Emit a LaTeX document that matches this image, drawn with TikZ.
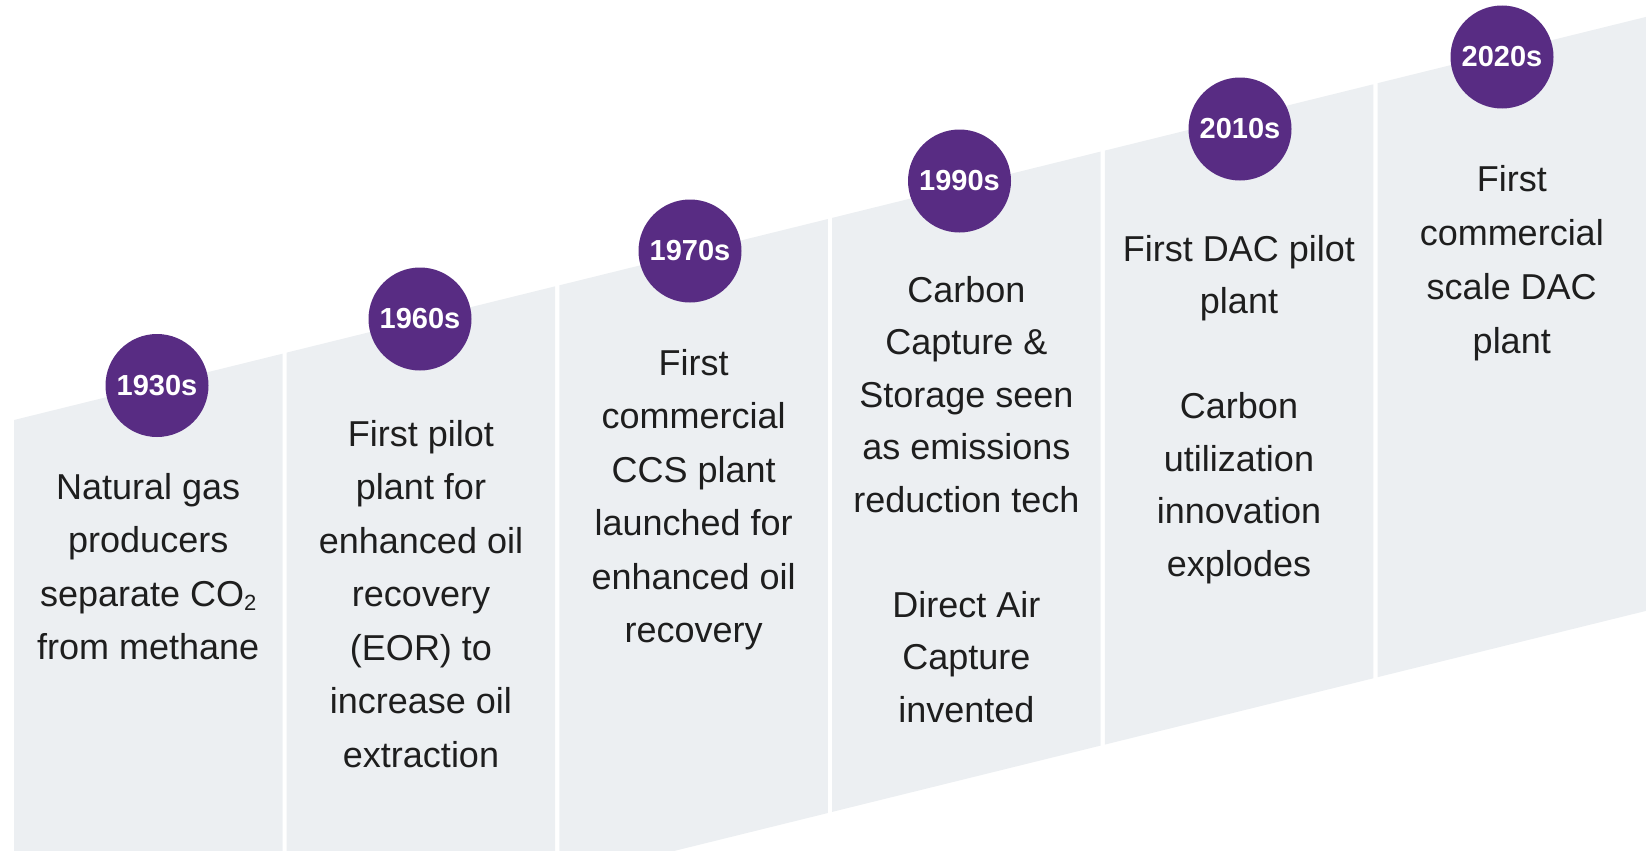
\documentclass[tikz,border=0pt]{standalone}
\usepackage{fontspec}
\setmainfont{Liberation Sans}

\definecolor{ballpurple}{HTML}{582C83}
\definecolor{panelgrey}{HTML}{ECEFF2}
\definecolor{notetext}{HTML}{1E1E1E}

\tikzset{
  yearball/.style={circle, fill=ballpurple, minimum size=103pt, inner sep=0pt,
    text=white, font=\fontsize{29}{29}\bfseries\selectfont},
  note/.style={align=center, text=notetext, inner sep=0pt, anchor=base,
    font=\fontsize{36}{53.5}\selectfont},
}

\begin{document}
\begin{tikzpicture}[x=1pt,y=-1pt]
        \useasboundingbox (0,0) rectangle (1646,851);
        \clip (0,0) rectangle (1646,851);
        % Draw the sloped panels
        \fill[panelgrey] (14,420) -- (282.5,353.7) -- (282.5,947.7) -- (14,1014) -- cycle;
        \fill[panelgrey] (286.7,352.6) -- (555.2,286.3) -- (555.2,880.3) -- (286.7,946.6) -- cycle;
        \fill[panelgrey] (559.4,285.3) -- (827.9,219.0) -- (827.9,813.0) -- (559.4,879.3) -- cycle;
        \fill[panelgrey] (832.1,217.9) -- (1100.6,151.6) -- (1100.6,745.6) -- (832.1,811.9) -- cycle;
        \fill[panelgrey] (1104.8,150.6) -- (1373.3,84.3) -- (1373.3,678.3) -- (1104.8,744.6) -- cycle;
        \fill[panelgrey] (1377.5,83.2) -- (1646,16.9) -- (1646,610.9) -- (1377.5,677.2) -- cycle;
        % Year circles on the top edge
        \node[yearball] (y1930) at (157,385.5) {1930s};
        \node[yearball] (y1960) at (420,319) {1960s};
        \node[yearball] (y1970) at (690,251) {1970s};
        \node[yearball] (y1990) at (959.5,181) {1990s};
        \node[yearball] (y2010) at (1240,129) {2010s};
        \node[yearball] (y2020) at (1502,57) {2020s};
        % Text of each panel (placed by the baseline of its last line)
        \node[note] (n1930) at (148.25,659.5) {Natural gas\\producers\\separate CO{\fontsize{22}{22}\selectfont\raisebox{-4pt}{2}}\\from methane};
        \node[note] (n1960) at (421,767) {First pilot\\plant for\\enhanced oil\\recovery\\(EOR) to\\increase oil\\extraction};
        \node[note] (n1970) at (693.6,642.5) {First\\commercial\\CCS plant\\launched for\\enhanced oil\\recovery};
        \node[note, font=\fontsize{36}{52.5}\selectfont] (n1990) at (966.4,722) {Carbon\\Capture \&\\Storage seen\\as emissions\\reduction tech\\[52.5pt]Direct Air\\Capture\\invented};
        \node[note, font=\fontsize{36}{52.5}\selectfont] (n2010) at (1239,576) {First DAC pilot\\plant\\[52.5pt]Carbon\\utilization\\innovation\\explodes};
        \node[note, font=\fontsize{36}{54}\selectfont] (n2020) at (1511.75,353) {First\\commercial\\scale DAC\\plant};
    \end{tikzpicture}
\end{document}
